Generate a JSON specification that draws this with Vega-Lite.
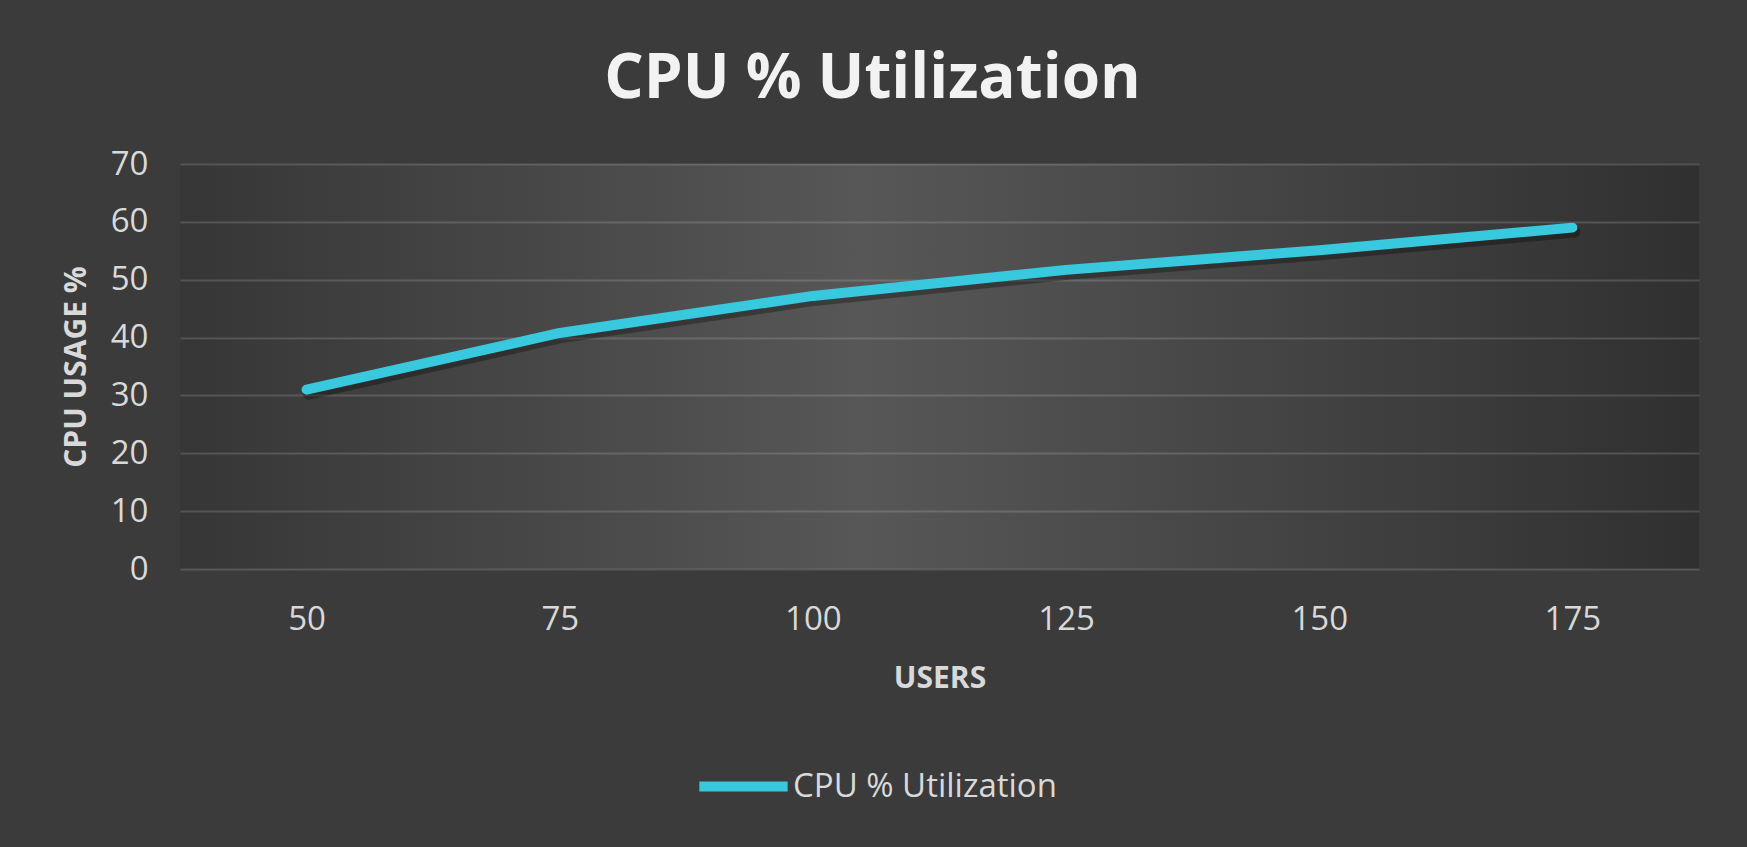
{
  "$schema": "https://vega.github.io/schema/vega-lite/v6.json",
  "autosize": "none",
  "width": 1519,
  "height": 405,
  "padding": {"left": 180, "top": 164, "right": 48, "bottom": 278},
  "background": "#3b3b3b",
  "config": {
    "font": "Open Sans",
    "view": {
      "stroke": null,
      "fill": {
        "gradient": "linear",
        "x1": 0, "y1": 0.5, "x2": 1, "y2": 0.5,
        "stops": [
          {"offset": 0, "color": "#363636"},
          {"offset": 0.45, "color": "#575757"},
          {"offset": 1, "color": "#303030"}
        ]
      }
    },
    "axis": {
      "domain": false,
      "ticks": false,
      "labelFont": "Open Sans",
      "labelFontSize": 33,
      "labelColor": "#d9d9d9",
      "titleFont": "Open Sans",
      "titleFontWeight": "bold",
      "titleFontSize": 30,
      "titleColor": "#d9d9d9",
      "gridColor": "#ffffff",
      "gridOpacity": 0.15,
      "gridWidth": 2
    },
    "legend": {
      "labelFont": "Open Sans",
      "labelFontSize": 33,
      "labelColor": "#d9d9d9"
    }
  },
  "title": {
    "text": "CPU % Utilization",
    "font": "Open Sans",
    "fontSize": 62,
    "fontWeight": "bold",
    "color": "#f2f2f2",
    "anchor": "middle",
    "offset": 37,
    "dx": -67
  },
  "data": {
    "values": [
      {"users": "50", "cpu": 31.0},
      {"users": "75", "cpu": 40.8},
      {"users": "100", "cpu": 47.2},
      {"users": "125", "cpu": 51.7},
      {"users": "150", "cpu": 55.1},
      {"users": "175", "cpu": 59.0}
    ]
  },
  "layer": [
    {
      "mark": {"type": "line", "stroke": "#000000", "strokeOpacity": 0.3, "strokeWidth": 12, "strokeCap": "round", "strokeJoin": "round", "xOffset": 2, "yOffset": 4},
      "encoding": {
        "x": {"field": "users", "type": "ordinal", "sort": null},
        "y": {"field": "cpu", "type": "quantitative"}
      }
    },
    {
      "mark": {"type": "line", "strokeWidth": 10, "strokeCap": "round", "strokeJoin": "round"},
      "encoding": {
        "x": {
          "field": "users", "type": "ordinal", "sort": null,
          "axis": {"title": "USERS", "labelAngle": 0, "labelAlign": "center", "labelPadding": 50, "titlePadding": 27, "grid": false}
        },
        "y": {
          "field": "cpu", "type": "quantitative",
          "scale": {"domain": [0, 70]},
          "axis": {"title": "CPU USAGE %", "values": [0, 10, 20, 30, 40, 50, 60, 70], "labelPadding": 32, "titlePadding": 19, "grid": true}
        },
        "color": {
          "datum": "CPU % Utilization",
          "type": "nominal",
          "scale": {"range": ["#38c9df"]},
          "legend": {
            "title": null,
            "orient": "none",
            "legendX": 514,
            "legendY": 573,
            "symbolType": "stroke",
            "symbolStrokeWidth": 10,
            "symbolSize": 7800,
            "labelOffset": 0,
            "labelLimit": 600
          }
        }
      }
    }
  ]
}
